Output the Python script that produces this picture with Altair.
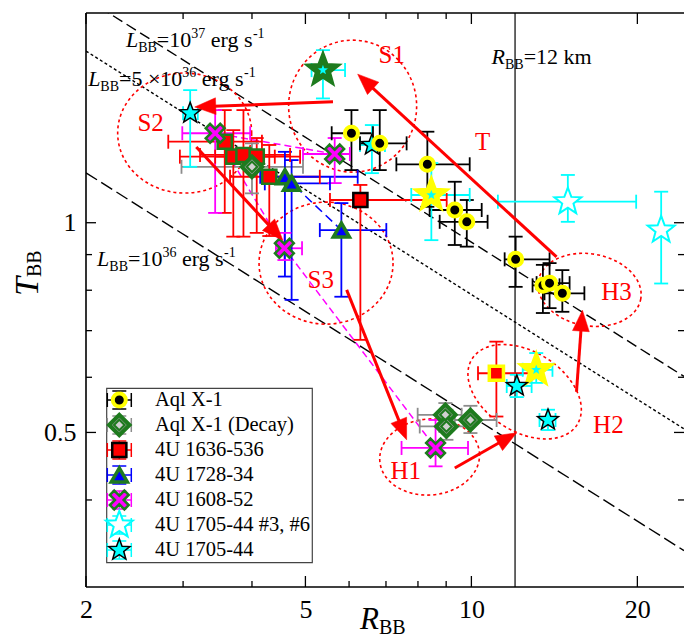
import math
import altair as alt
import pandas as pd

FONT = "Liberation Serif"

# ---------------- data (R_BB in km, T_BB in keV) ----------------
# Aql X-1
aql_R   = [6.06, 6.82, 8.32, 9.33, 9.81, 12.03, 13.48, 13.86, 14.62]
aql_T   = [1.344, 1.300, 1.213, 1.043, 1.003, 0.886, 0.813, 0.819, 0.792]
aql_Rlo = [5.58, 6.28, 7.31, 8.40, 8.76, 11.49, 12.91, 13.13, 13.57]
aql_Rhi = [6.63, 7.63, 9.93, 10.44, 10.70, 13.86, 14.45, 15.07, 16.03]
aql_Tlo = [1.190, 1.190, 1.054, 0.929, 0.924, 0.809, 0.742, 0.754, 0.745]
aql_Thi = [1.451, 1.451, 1.351, 1.145, 1.078, 0.955, 0.870, 0.875, 0.855]

# Aql X-1 (Decay)
dec_R   = [4.00, 8.97, 9.01, 9.96]
dec_T   = [1.203, 0.530, 0.510, 0.521]
dec_Rlo = [2.98, 7.99, 8.06, 9.33]
dec_Rhi = [4.95, 9.60, 9.96, 11.11]
dec_Tlo = [1.102, 0.501, 0.488, 0.499]
dec_Thi = [1.300, 0.551, 0.539, 0.546]

# 4U 1636-536
u1636_R   = [3.57, 3.70, 3.86, 4.08, 4.30, 6.29, 11.1]
u1636_T   = [1.307, 1.244, 1.251, 1.244, 1.164, 1.078, 0.608]
u1636_Rlo = [2.82, 2.96, 3.22, 3.43, 3.65, 5.54, 10.28]
u1636_Rhi = [4.17, 4.40, 4.69, 4.89, 5.31, 9.02, 12.84]
u1636_Tlo = [1.033, 0.955, 0.955, 0.967, 0.957, 0.679, 0.527]
u1636_Thi = [1.451, 1.358, 1.451, 1.323, 1.293, 1.133, 0.675]
u1636_edge = ["g", "g", "g", "g", "g", "k", "y"]

# 4U 1728-34
u1728_R   = [4.59, 4.72, 5.81]
u1728_T   = [1.164, 1.139, 0.976]
u1728_Rlo = [4.14, 4.22, 5.31]
u1728_Rhi = [6.22, 5.54, 7.01]
u1728_Tlo = [0.837, 0.775, 0.783]
u1728_Thi = [1.264, 1.230, 1.067]

# 4U 1608-52 (listed in the order of the dashed track)
u1608_R   = [5.65, 3.43, 4.58, 8.61]
u1608_T   = [1.255, 1.344, 0.919, 0.475]
u1608_Rlo = [4.95, 2.99, 4.42, 7.47]
u1608_Rhi = [6.02, 3.97, 4.93, 9.86]
u1608_Tlo = [1.140, 1.033, 0.884, 0.447]
u1608_Thi = [1.323, 1.451, 0.967, 0.521]

# 4U 1705-44 #3, #6
u36_R   = [14.96, 22.09]
u36_T   = [1.072, 0.976]
u36_Rlo = [11.17, 22.09]
u36_Rhi = [19.90, 22.09]
u36_Tlo = [1.003, 0.818]
u36_Thi = [1.171, 1.108]

# 4U 1705-44
u1705_R   = [3.09, 5.38, 6.60, 8.46, 13.11, 12.09, 13.77]
u1705_T   = [1.436, 1.656, 1.293, 1.096, 0.615, 0.583, 0.521]
u1705_Rlo = [3.00, 5.13, 6.28, 7.78, 12.39, 11.59, 13.29]
u1705_Rhi = [3.19, 5.90, 6.97, 9.93, 14.03, 12.86, 14.21]
u1705_Tlo = [1.203, 1.508, 1.178, 0.944, 0.589, 0.562, 0.504]
u1705_Thi = [1.550, 1.769, 1.381, 1.218, 0.650, 0.605, 0.539]
u1705_edge = ["k", "g", "k", "y", "y", "k", "k"]

# iso-luminosity lines
lum_values = [1e37, 5e36, 1e36]
r_ns = 12.0

# regions (centres) and their names
reg_name = ["S1", "S2", "S3", "H1", "H2", "H3"]
reg_R = [6.09, 3.02, 5.45, 8.40, 12.49, 16.38]
reg_T = [1.470, 1.345, 0.875, 0.461, 0.572, 0.801]

# arrows (start -> end)
arr_R1 = [5.61, 14.27, 3.17, 5.94, 9.33, 15.51]
arr_T1 = [1.491, 0.893, 1.284, 0.801, 0.4446, 0.572]
arr_R2 = [3.15, 6.22, 4.55, 7.63, 12.08, 15.90]
arr_T2 = [1.466, 1.634, 0.944, 0.488, 0.4993, 0.749]

# red labels
lab_text = ["S1", "S2", "S3", "T", "H1", "H2", "H3"]
lab_R = [7.17, 2.62, 5.33, 10.48, 7.60, 17.72, 18.33]
lab_T = [1.740, 1.390, 0.828, 1.306, 0.440, 0.5127, 0.7952]

# axis ticks
x_major = [2, 5, 10, 20]
x_minor = [3, 4, 6, 7, 8, 9]
y_major = [0.5, 1]
y_minor = [0.4, 0.6, 0.7, 0.8, 0.9]

legend_labels = ["Aql X-1", "Aql X-1 (Decay)", "4U 1636-536", "4U 1728-34",
                 "4U 1608-52", "4U 1705-44 #3, #6", "4U 1705-44"]

# ---------------- styling ----------------
W, H = 598, 574
XMIN, XMAX = 2.0, 24.3
YMIN, YMAX = 0.3, 2.0
KX = W / math.log10(XMAX / XMIN)
KY = H / math.log10(YMAX / YMIN)

CYAN = "#00ffff"; MAG = "#ff00ff"; GREEN = "#1e7b1e"; RED = "#ff0000"
BLUE = "#0000ff"; GREY = "#8c8c8c"; YEL = "#ffff00"
EDGE = {"g": GREEN, "k": "black", "y": YEL}

XS = alt.Scale(type="log", domain=[XMIN, XMAX], nice=False)
YS = alt.Scale(type="log", domain=[YMIN, YMAX], nice=False)
XAX = alt.Axis(values=x_major, format="~g", tickSize=0, domain=False, grid=False,
               labelFont=FONT, labelFontSize=26, labelColor="black", labelPadding=9,
               labelFlush=False, labelOverlap=False, title="")
YAX = alt.Axis(values=y_major, format="~g", tickSize=0, domain=False, grid=False,
               labelFont=FONT, labelFontSize=26, labelColor="black", labelPadding=10,
               labelFlush=False, labelOverlap=False, title="")


def ex(f):
    return alt.X(f"{f}:Q", scale=XS, axis=XAX)


def ey(f):
    return alt.Y(f"{f}:Q", scale=YS, axis=YAX)


def star_path(inner=0.42):
    pts = []
    for k in range(10):
        r = 1.0 if k % 2 == 0 else inner
        a = math.radians(-90 + 36 * k)
        pts.append(f"{r * math.cos(a):.3f},{r * math.sin(a):.3f}")
    return "M" + "L".join(pts) + "Z"


def plus_path(w=0.3):
    p = [(-1, -w), (-w, -w), (-w, -1), (w, -1), (w, -w), (1, -w), (1, w), (w, w), (w, 1), (-w, 1), (-w, w), (-1, w)]
    return "M" + "L".join(f"{a},{b}" for a, b in p) + "Z"


def ellipse_path(k):
    c = 0.5523
    return (f"M1,0C1,{c*k:.3f} {c:.3f},{k:.3f} 0,{k:.3f}"
            f"C{-c:.3f},{k:.3f} -1,{c*k:.3f} -1,0"
            f"C-1,{-c*k:.3f} {-c:.3f},{-k:.3f} 0,{-k:.3f}"
            f"C{c:.3f},{-k:.3f} 1,{-c*k:.3f} 1,0Z")


STAR = star_path()
XSHAPE = plus_path()
HEAD = "M0,0L-0.4,1L0.4,1Z"

STYLES = {
    "aql": [dict(shape="circle", size=169, fill="black", stroke=YEL, sw=4)],
    "dec": [dict(shape="diamond", size=420, fill="#9b9b9b", stroke=GREEN, sw=4),
            dict(shape="diamond", size=110, fill="#d0d0d0", stroke=GREEN, sw=2)],
    "u1636": [dict(shape="square", size=200, fill=RED, stroke="black", sw=2.5)],
    "u1728": [dict(shape="triangle-up", size=260, fill=BLUE, stroke=GREEN, sw=3.5)],
    "u1608": [dict(shape=XSHAPE, size=420, fill=MAG, stroke=GREEN, sw=2.5, angle=45)],
    "u36": [dict(shape=STAR, size=800, fill="white", stroke=CYAN, sw=2)],
    "u1705": [dict(shape=STAR, size=500, fill=CYAN, stroke="black", sw=1.5)],
}
ERRCOL = {"aql": "black", "dec": GREY, "u1636": RED, "u1728": BLUE,
          "u1608": MAG, "u36": CYAN, "u1705": CYAN}
LEG_KINDS = ["aql", "dec", "u1636", "u1728", "u1608", "u36", "u1705"]


def point_layers(kind, data, enc, override=None):
    out = []
    for i, st in enumerate(STYLES[kind]):
        props = dict(filled=True, opacity=1, shape=st["shape"], size=st["size"],
                     fill=st["fill"], stroke=st["stroke"], strokeWidth=st["sw"])
        if "angle" in st:
            props["angle"] = st["angle"]
        e = dict(enc)
        if override and i == 0:
            e.update(override)
        out.append(alt.Chart(data).mark_point(**props).encode(**e))
    return out


def sdf(R, T, Rlo, Rhi, Tlo, Thi, kind):
    return pd.DataFrame({"R": R, "T": T, "Rlo": Rlo, "Rhi": Rhi, "Tlo": Tlo, "Thi": Thi,
                         "ec": ERRCOL[kind]})


series = {
    "u36": sdf(u36_R, u36_T, u36_Rlo, u36_Rhi, u36_Tlo, u36_Thi, "u36"),
    "u1705": sdf(u1705_R, u1705_T, u1705_Rlo, u1705_Rhi, u1705_Tlo, u1705_Thi, "u1705"),
    "u1636": sdf(u1636_R, u1636_T, u1636_Rlo, u1636_Rhi, u1636_Tlo, u1636_Thi, "u1636"),
    "u1608": sdf(u1608_R, u1608_T, u1608_Rlo, u1608_Rhi, u1608_Tlo, u1608_Thi, "u1608"),
    "dec": sdf(dec_R, dec_T, dec_Rlo, dec_Rhi, dec_Tlo, dec_Thi, "dec"),
    "u1728": sdf(u1728_R, u1728_T, u1728_Rlo, u1728_Rhi, u1728_Tlo, u1728_Thi, "u1728"),
    "aql": sdf(aql_R, aql_T, aql_Rlo, aql_Rhi, aql_Tlo, aql_Thi, "aql"),
}
series["u1636"]["edge"] = [EDGE[e] for e in u1636_edge]
series["u1636"]["sw"] = [3.5 if e == "y" else 2.5 for e in u1636_edge]
series["u1705"]["edge"] = [EDGE[e] for e in u1705_edge]
series["u1705"]["sw"] = [1.5 if e == "k" else 5.5 for e in u1705_edge]
series["u1705"]["sz"] = [480 if e == "k" else 680 for e in u1705_edge]

layers = []

# iso-luminosity lines  (T_BB = (L / 4 pi R^2 sigma)^(1/4))
SIGMA = 5.6704e-5
KEV = 1.160452e7


def t_bb(L, R):
    return (L / (4 * math.pi * (R * 1e5) ** 2 * SIGMA)) ** 0.25 / KEV


for L, dash in zip(lum_values, [[11, 5], [3, 2.5], [13, 5]]):
    df = pd.DataFrame({"R": [XMIN, XMAX], "T": [t_bb(L, XMIN), t_bb(L, XMAX)]})
    layers.append(alt.Chart(df).mark_line(clip=True, color="black", strokeWidth=1.4,
                                          strokeDash=dash).encode(x=ex("R"), y=ey("T")))

layers.append(alt.Chart(pd.DataFrame({"R": [r_ns]})).mark_rule(color="black", strokeWidth=1.2)
              .encode(x=ex("R")))

# dotted regions
ell_rx = [64, 67, 67, 50, 62, 52]
ell_ry = [66, 60, 61, 38, 40, 36]
ell_ang = [0, 0, 0, 355, 32, 10]
ell = pd.DataFrame({"R": reg_R, "T": reg_T,
                    "shp": [ellipse_path(b / a) for a, b in zip(ell_rx, ell_ry)],
                    "sz": [(2 * a) ** 2 for a in ell_rx], "ang": ell_ang})
layers.append(alt.Chart(ell).mark_point(filled=False, opacity=1, stroke=RED, strokeWidth=1.6,
                                        strokeDash=[3, 3]).encode(
    x=ex("R"), y=ey("T"), shape=alt.Shape("shp:N", scale=None),
    size=alt.Size("sz:Q", scale=None), angle=alt.Angle("ang:Q", scale=None)))

# dashed tracks
mag = series["u1608"].reset_index().rename(columns={"index": "i"})
layers.append(alt.Chart(mag).mark_line(color=MAG, strokeWidth=1.5, strokeDash=[7, 4])
              .encode(x=ex("R"), y=ey("T"), order="i:Q"))
blu = series["u1728"].iloc[[0, 2]].reset_index().rename(columns={"index": "i"})
layers.append(alt.Chart(blu).mark_line(color=BLUE, strokeWidth=1.5, strokeDash=[9, 5])
              .encode(x=ex("R"), y=ey("T"), order="i:Q"))

# error bars
allp = pd.concat([series[k][["R", "T", "Rlo", "Rhi", "Tlo", "Thi", "ec"]] for k in series],
                 ignore_index=True)
hb = allp[allp["Rhi"] > allp["Rlo"]]
vb = allp[allp["Thi"] > allp["Tlo"]]
col = alt.Color("ec:N", scale=None)
layers.append(alt.Chart(hb).mark_rule(strokeWidth=1.8).encode(
    x=ex("Rlo"), x2=alt.X2("Rhi"), y=ey("T"), color=col))
layers.append(alt.Chart(vb).mark_rule(strokeWidth=1.8).encode(
    y=ey("Tlo"), y2=alt.Y2("Thi"), x=ex("R"), color=col))
vcaps = pd.concat([vb[["R", "ec"]].assign(T=vb["Tlo"]), vb[["R", "ec"]].assign(T=vb["Thi"])])
hcaps = pd.concat([hb[["T", "ec"]].assign(R=hb["Rlo"]), hb[["T", "ec"]].assign(R=hb["Rhi"])])
layers.append(alt.Chart(vcaps).mark_tick(orient="horizontal", size=14, thickness=1.8, opacity=1)
              .encode(x=ex("R"), y=ey("T"), color=col))
layers.append(alt.Chart(hcaps).mark_tick(orient="vertical", size=14, thickness=1.8, opacity=1)
              .encode(x=ex("R"), y=ey("T"), color=col))

# points
penc = dict(x=ex("R"), y=ey("T"))
layers += point_layers("u36", series["u36"], penc)
layers += point_layers("u1705", series["u1705"], penc, dict(
    stroke=alt.Stroke("edge:N", scale=None), strokeWidth=alt.StrokeWidth("sw:Q", scale=None),
    size=alt.Size("sz:Q", scale=None)))
layers += point_layers("u1636", series["u1636"], penc, dict(
    stroke=alt.Stroke("edge:N", scale=None), strokeWidth=alt.StrokeWidth("sw:Q", scale=None)))
layers += point_layers("u1608", series["u1608"], penc)
layers += point_layers("dec", series["dec"], penc)
layers += point_layers("u1728", series["u1728"], penc)
layers += point_layers("aql", series["aql"], penc)

# arrows
rows = []
for r1, t1, r2, t2 in zip(arr_R1, arr_T1, arr_R2, arr_T2):
    dxp = (math.log10(r2) - math.log10(r1)) * KX
    dyp = -(math.log10(t2) - math.log10(t1)) * KY
    ln = math.hypot(dxp, dyp)
    ux, uy = dxp / ln, dyp / ln
    back = 12
    rows.append(dict(R1=r1, T1=t1, R2=r2, T2=t2,
                     R2b=r2 * 10 ** (-ux * back / KX), T2b=t2 * 10 ** (uy * back / KY),
                     ang=math.degrees(math.atan2(ux, -uy)) % 360))
arr = pd.DataFrame(rows)
layers.append(alt.Chart(arr).mark_rule(color=RED, strokeWidth=3).encode(
    x=ex("R1"), y=ey("T1"), x2=alt.X2("R2b"), y2=alt.Y2("T2b")))
layers.append(alt.Chart(arr).mark_point(shape=HEAD, size=1764, filled=True, opacity=1, fill=RED,
                                        stroke=RED, strokeWidth=0.5).encode(
    x=ex("R2"), y=ey("T2"), angle=alt.Angle("ang:Q", scale=None)))

# red labels
labs = pd.DataFrame({"R": lab_R, "T": lab_T, "t": lab_text})
layers.append(alt.Chart(labs).mark_text(font=FONT, fontSize=25, color=RED, align="center",
                                        baseline="middle").encode(x=ex("R"), y=ey("T"), text="t:N"))

# rich text helpers (Times-like advance widths, in em)
WEM = {"=": 0.564, " ": 0.25, "e": 0.444, "r": 0.333, "g": 0.5, "s": 0.389, "k": 0.5,
       "m": 0.778, "×": 0.564, "B": 0.667, "L": 0.556, "R": 0.611, "T": 0.556, "-": 0.333}


def tw(s, size):
    return sum(WEM.get(c, 0.5) for c in s) * size


def rich(parts, enc, data, color="black", angle=0):
    out, dx = [], 0.0
    for text, size, italic, dy in parts:
        stripped = text.lstrip(" ")
        dx += tw(text[:len(text) - len(stripped)], size)  # leading spaces collapse in SVG
        mk = dict(text=stripped, align="left", baseline="alphabetic", font=FONT, fontSize=size,
                  color=color, dx=round(dx, 1), dy=dy)
        if italic:
            mk["fontStyle"] = "italic"
        if angle:
            mk["angle"] = angle
        out.append(alt.Chart(data).mark_text(**mk).encode(**enc))
        dx += tw(stripped, size)
    return out


def lum_label(R, T, mant, expo):
    parts = [("L", 22, True, 0), ("BB", 14, False, 5), ("=" + mant + "10", 22, False, 0),
             (expo, 14, False, -9), (" erg s", 22, False, 0), ("-1", 14, False, -9)]
    return rich(parts, dict(x=ex("R"), y=ey("T")), pd.DataFrame({"R": [R], "T": [T]}))


layers += lum_label(2.363, 1.787, "", "37")
layers += lum_label(2.018, 1.570, "5 ×", "36")
layers += lum_label(2.095, 0.867, "", "36")
layers += rich([("R", 22, True, 0), ("BB", 14, False, 5), ("=12 km", 22, False, 0)],
               dict(x=ex("R"), y=ey("T")), pd.DataFrame({"R": [10.88], "T": [1.689]}))

DUMMY = pd.DataFrame({"d": [0]})
# axis titles
layers += rich([("R", 31, True, 0), ("BB", 20, False, 5)],
               dict(x=alt.value(274), y=alt.value(616)), DUMMY)
layers += rich([("T", 34, True, 0), ("BB", 20, False, 3)],
               dict(x=alt.value(-48), y=alt.value(283)), DUMMY, angle=270)

# legend
LX1, LX2, LY1, LY2 = 20.7, 226.3, 375.3, 549.7
layers.append(alt.Chart(DUMMY).mark_rect(fill="white", stroke="#444444", strokeWidth=1.2).encode(
    x=alt.value(LX1), x2=alt.value(LX2), y=alt.value(LY1), y2=alt.value(LY2)))
for i, (kind, label) in enumerate(zip(LEG_KINDS, legend_labels)):
    sx, sy = 33.3, 387 + 25 * i
    ec = ERRCOL[kind]
    for (a1, a2, b1, b2) in [(sx - 12, sx + 12, sy, sy), (sx, sx, sy - 9, sy + 9),
                             (sx - 12, sx - 12, sy - 7, sy + 7), (sx + 12, sx + 12, sy - 7, sy + 7),
                             (sx - 7, sx + 7, sy - 9, sy - 9), (sx - 7, sx + 7, sy + 9, sy + 9)]:
        layers.append(alt.Chart(DUMMY).mark_rule(color=ec, strokeWidth=1.5).encode(
            x=alt.value(a1), x2=alt.value(a2), y=alt.value(b1), y2=alt.value(b2)))
    layers += point_layers(kind, DUMMY, dict(x=alt.value(sx), y=alt.value(sy)))
    layers.append(alt.Chart(DUMMY).mark_text(text=label, font=FONT, fontSize=20.5, color="black",
                                             align="left", baseline="middle").encode(
        x=alt.value(69), y=alt.value(sy)))

# frame (left, top, bottom) and inward ticks
for (a1, a2, b1, b2) in [(0, 0, 0, H), (0, W, 0, 0), (0, W, H, H)]:
    layers.append(alt.Chart(DUMMY).mark_rule(color="black", strokeWidth=1.6).encode(
        x=alt.value(a1), x2=alt.value(a2), y=alt.value(b1), y2=alt.value(b2)))
for vals, ln in [(x_major, 11), (x_minor, 6)]:
    d = pd.DataFrame({"R": vals})
    layers.append(alt.Chart(d).mark_rule(color="black", strokeWidth=1.3).encode(
        x=ex("R"), y=alt.value(H), y2=alt.value(H - ln)))
    layers.append(alt.Chart(d).mark_rule(color="black", strokeWidth=1.3).encode(
        x=ex("R"), y=alt.value(0), y2=alt.value(ln)))
for vals, ln in [(y_major, 10), (y_minor, 6)]:
    d = pd.DataFrame({"T": vals})
    layers.append(alt.Chart(d).mark_rule(color="black", strokeWidth=1.3).encode(
        y=ey("T"), x=alt.value(0), x2=alt.value(ln)))
    layers.append(alt.Chart(d).mark_rule(color="black", strokeWidth=1.3).encode(
        y=ey("T"), x=alt.value(W - ln), x2=alt.value(W)))

chart = alt.layer(*layers).properties(
    width=W, height=H,
    padding={"left": 86, "top": 13, "right": 0, "bottom": 52},
    autosize=alt.AutoSizeParams(type="none"),
    background="white",
).configure_view(stroke="transparent")

chart.save("out.html", embed_options={"renderer": "svg", "actions": False})
